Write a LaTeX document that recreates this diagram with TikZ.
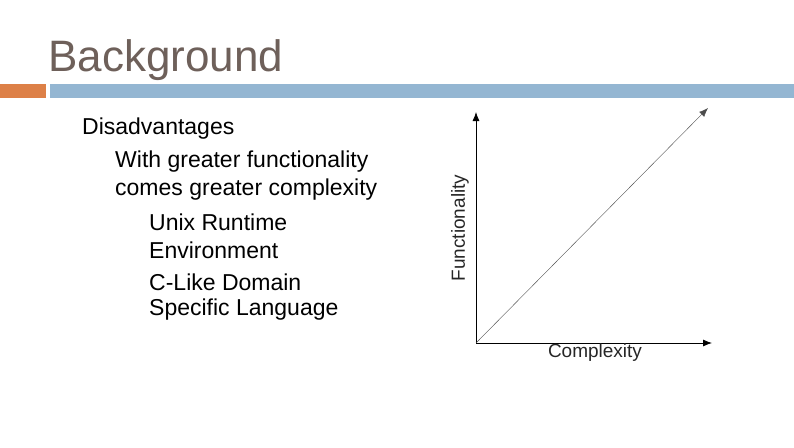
\documentclass[tikz,border=0pt]{standalone}
\usepackage{fontspec}
\setmainfont{Liberation Sans}
\usetikzlibrary{arrows.meta}
\definecolor{titlegray}{RGB}{110,96,90}
\definecolor{barorange}{RGB}{221,128,71}
\definecolor{barblue}{RGB}{148,182,210}
\tikzset{
  bodytext/.style = {anchor = west, inner sep = 0pt, font = \fontsize{23}{26}\selectfont},
  axis/.style = {-{Latex[length=9pt,width=7pt]}, line width=.8pt},
  axislabel/.style = {inner sep = 0pt, font = \fontsize{19}{22}\selectfont, text = black!85}
}
\begin{document}
\begin{tikzpicture}[x = 1pt, y = -1pt]
        \useasboundingbox (0,0) rectangle (794,447);

        % draws the title and the bars
        \node[anchor = base west, inner sep = 0pt, text = titlegray,
              font = \fontsize{44}{48}\selectfont] (title) at (48,71) {Background};
        \fill[barorange] (0,84) rectangle (46,98);
        \fill[barblue] (50,84) rectangle (794,98);

        % draws the text
        \node[bodytext] (dis) at (82,129) {Disadvantages};
        \foreach \t/\x/\y [count = \i] in {With greater functionality/115/162,
            comes greater complexity/115/190, Unix Runtime/149/222,
            Environment/149/250, C-Like Domain/149/282, Specific Language/149/310}
          \node[bodytext] (line\i) at (\x,\y) {\t};

        % draws the graph
        \coordinate (origin) at (476,343);
        \coordinate (ytop) at (476,112);
        \coordinate (xend) at (712,343);
        \coordinate (diag) at (708,108);
        \draw[axis] (origin) -- (ytop);
        \draw[axis] (origin) -- (xend);
        \draw[-{Latex[length=9pt,width=7pt]}, line width=.4pt, black!70] (origin) -- (diag);
        \node[axislabel, rotate = 90] (func) at (460,228) {Functionality};
        \node[axislabel] (compl) at (595,353) {Complexity};
      \end{tikzpicture}
\end{document}
